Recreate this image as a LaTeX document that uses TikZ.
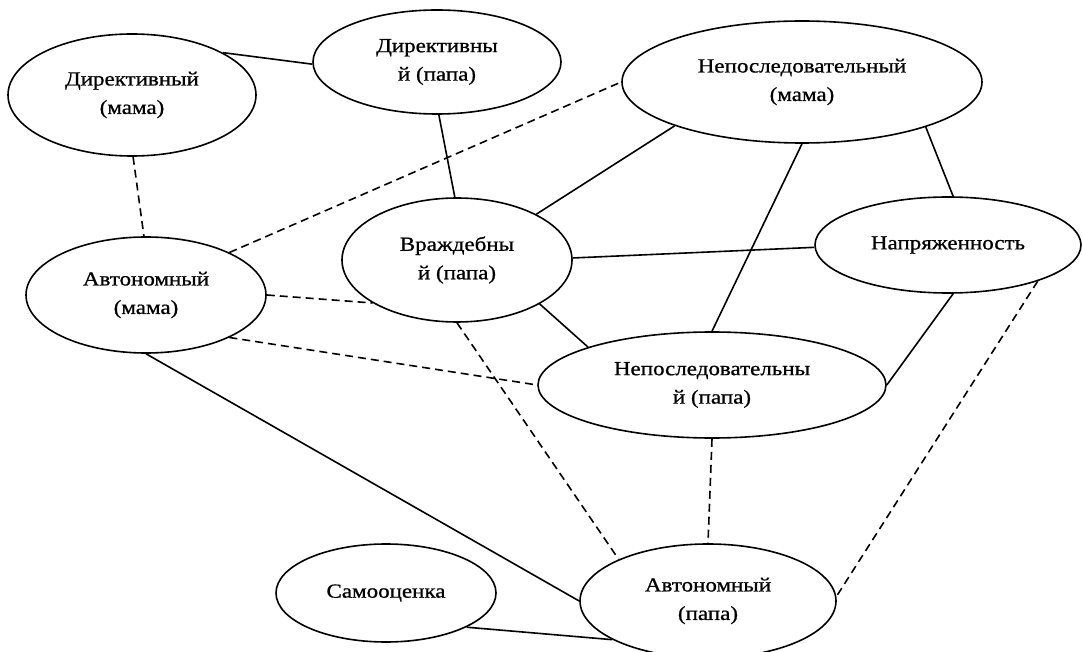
\documentclass[tikz,border=0pt]{standalone}
\usepackage{fontspec}
\setmainfont{Liberation Serif}[FakeStretch=1.15,FakeBold=0.8]
\usetikzlibrary{shapes.geometric}
\begin{document}
\begin{tikzpicture}[x=1pt,y=-1pt,
  ell/.style={draw, ellipse, line width=1.6pt, inner sep=0pt, align=center,
    font=\fontsize{20}{28.5}\selectfont},
  link/.style={line width=1.6pt},
  dlink/.style={line width=1.6pt, dash pattern=on 8pt off 5pt}]
\useasboundingbox (0,0) rectangle (1082,652);
\node[ell, minimum width=248pt, minimum height=122pt] (dm) at (132,95) {Директивный\\(мама)};
\node[ell, minimum width=248pt, minimum height=104pt] (dp) at (437,62) {Директивны\\й (папа)};
\node[ell, minimum width=360pt, minimum height=122pt] (nm) at (802,82) {Непоследовательный\\(мама)};
\node[ell, minimum width=240pt, minimum height=116pt] (am) at (146,295) {Автономный\\(мама)};
\node[ell, minimum width=230pt, minimum height=124pt] (vr) at (457,260) {Враждебны\\й (папа)};
\node[ell, minimum width=266pt, minimum height=96pt] (na) at (948,245) {Напряженность};
\node[ell, minimum width=348pt, minimum height=106pt] (np) at (712,385) {Непоследовательны\\й (папа)};
\node[ell, minimum width=220pt, minimum height=98pt] (sa) at (386,593) {Самооценка};
\node[ell, minimum width=256pt, minimum height=114pt] (ap) at (708,601) {Автономный\\(папа)};
% solid links
\draw[link] (dm.25) -- (dp.181);
\draw[link] (dp.-88) -- (vr.92);
\draw[link] (nm.199) -- (vr.30);
\draw[link] (nm.-90) -- (np.90);
\draw[link] (nm.-20) -- (na.84);
\draw[link] (vr.1) -- (na.181);
\draw[link] (vr.-28) -- (np.163);
\draw[link] (na.-84) -- (np.0);
\draw[link] (am.-90) -- (ap.180);
\draw[link] (sa.-23) -- (ap.202);
% dashed links
\draw[dlink] (dm.-89) -- (am.92);
\draw[dlink] (am.27) -- (nm.180);
\draw[dlink] (am.0) -- (vr.207);
\draw[dlink] (am.-27) -- (np.180);
\draw[dlink] (vr.-90) -- (ap.155);
\draw[dlink] (np.-90) -- (ap.90);
\draw[dlink] (na.-22) -- (ap.2);
\end{tikzpicture}
\end{document}
